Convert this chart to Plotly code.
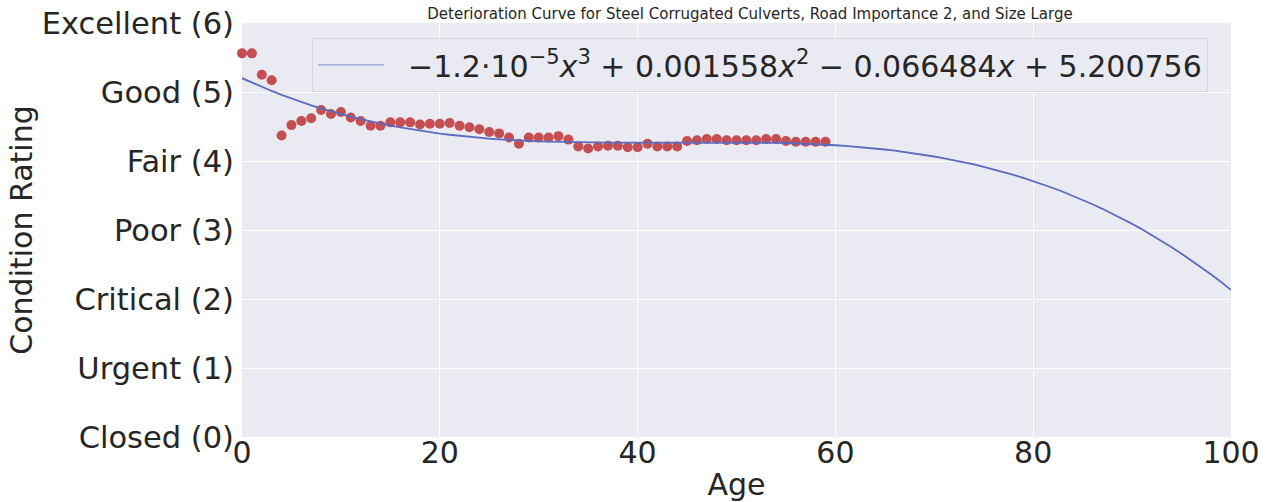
import numpy as np
import plotly.graph_objects as go

# Observed mean condition rating by age
ages = list(range(0, 60))
ratings = [5.56, 5.56, 5.25, 5.17, 4.37, 4.52, 4.58, 4.62, 4.74, 4.68,
           4.71, 4.63, 4.58, 4.51, 4.51, 4.56, 4.56, 4.56, 4.53, 4.54,
           4.54, 4.55, 4.51, 4.49, 4.46, 4.42, 4.40, 4.34, 4.25, 4.34,
           4.34, 4.34, 4.36, 4.31, 4.21, 4.18, 4.21, 4.22, 4.22, 4.20,
           4.20, 4.25, 4.21, 4.21, 4.21, 4.29, 4.30, 4.32, 4.32, 4.30,
           4.30, 4.30, 4.30, 4.32, 4.32, 4.29, 4.28, 4.28, 4.28, 4.28]

# Fitted cubic coefficients (highest power first), as shown in legend
coeffs = [-1.2e-5, 0.001558, -0.066484, 5.200756]
fit_ages = list(range(0, 101))

tick_vals = [0, 1, 2, 3, 4, 5, 6]
tick_text = ["Closed (0)", "Urgent (1)", "Critical (2)", "Poor (3)",
             "Fair (4)", "Good (5)", "Excellent (6)"]
x_ticks = [0, 20, 40, 60, 80, 100]

legend_label = ("&nbsp;&nbsp;−1.2·10<sup>−5</sup><i>x</i><sup>3</sup> + 0.001558<i>x</i><sup>2</sup>"
                " − 0.066484<i>x</i> + 5.200756")

fit_vals = np.polyval(coeffs, np.array(fit_ages, dtype=float))

font_family = "DejaVu Sans"
text_col = "#262626"

W, H = 1271, 502

fig = go.Figure()
fig.add_trace(go.Scatter(
    x=ages, y=ratings, mode="markers",
    marker=dict(color="#C44E52", size=10, line=dict(width=0)),
    showlegend=False, cliponaxis=False))
fig.add_trace(go.Scatter(
    x=fit_ages, y=fit_vals, mode="lines",
    line=dict(color="#5B6BBF", width=1.8),
    showlegend=False))
# legend entry (lighter line as in the reference legend)
fig.add_trace(go.Scatter(
    x=[None], y=[None], mode="lines",
    line=dict(color="#A7B1DC", width=1.8),
    name=legend_label, showlegend=True))

fig.update_layout(
    width=W, height=H,
    margin=dict(l=242, r=40, t=23, b=65, autoexpand=False),
    paper_bgcolor="white", plot_bgcolor="#EAEAF2",
    font=dict(family=font_family, color=text_col, size=30),
    title=dict(text="Deterioration Curve for Steel Corrugated Culverts, Road Importance 2, and Size Large",
               x=750 / W, xanchor="center", y=1 - 14 / H, yanchor="middle",
               font=dict(size=15, family=font_family, color=text_col)),
    legend=dict(x=0.0708, xanchor="left", y=0.964, yanchor="top",
                bgcolor="rgba(234,234,242,0.85)", bordercolor="#D6D6DE", borderwidth=1,
                font=dict(size=30, family=font_family, color=text_col),
                itemwidth=66),
    xaxis=dict(range=[0, 100], tickvals=x_ticks, showgrid=True, gridcolor="white",
               gridwidth=1, zeroline=False, showline=False, ticks="", automargin=False,
               ticklabeloverflow="allow", ticklabelstandoff=-5,
               tickfont=dict(size=30), title=dict(text="Age", font=dict(size=30), standoff=6)),
    yaxis=dict(range=[0, 6], tickvals=tick_vals, ticktext=tick_text, showgrid=True,
               gridcolor="white", gridwidth=1, zeroline=False, showline=False, ticks="",
               automargin=False, ticklabeloverflow="allow", ticklabelstandoff=7,
               tickfont=dict(size=30.5), title=dict(text="Condition Rating", font=dict(size=30), standoff=0)),
)

fig.write_html("out.html", config={"displayModeBar": False},
               post_script="document.body.style.margin='0px';")
